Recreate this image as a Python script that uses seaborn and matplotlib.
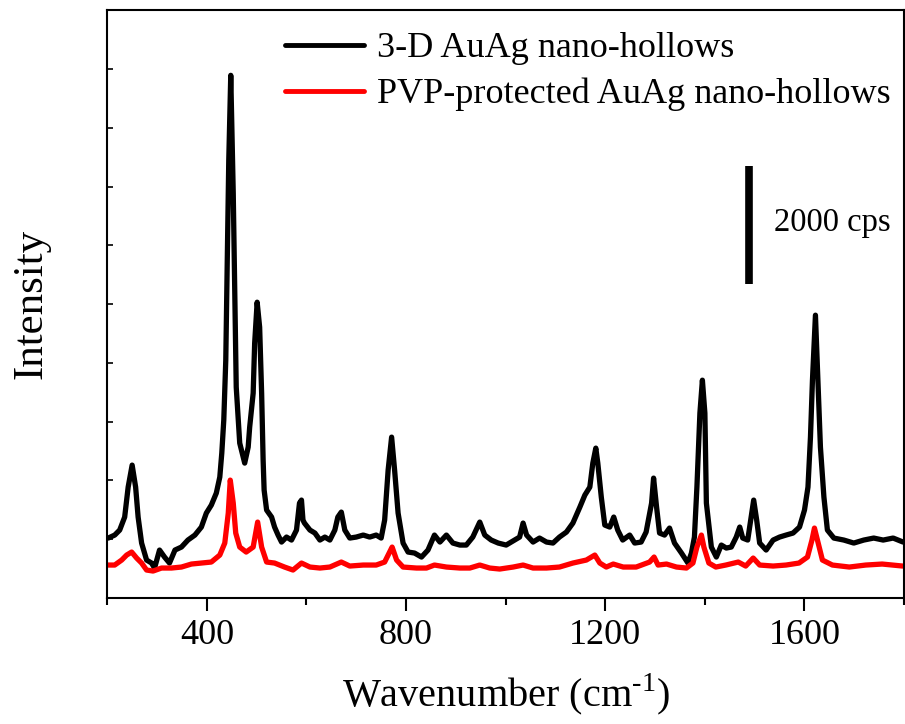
import matplotlib
matplotlib.use("Agg")
import matplotlib.pyplot as plt
import seaborn as sns
import pandas as pd
import numpy as np

# ---- data ----
series_names = ["3-D AuAg nano-hollows", "PVP-protected AuAg nano-hollows"]
series_colors = ["#000000", "#ff0000"]

wn_black = [202, 215, 225, 235, 242, 250, 257, 262, 269, 279, 289, 295, 305, 315, 325, 336,
            349, 362, 376, 389, 399, 409, 419, 426, 430, 434, 438, 441, 444, 448, 453, 456,
            459, 466, 473, 476, 483, 486, 493, 496, 501, 506, 510, 513, 515, 520, 530, 536,
            543, 550, 560, 570, 580, 586, 590, 593, 596, 607, 617, 627, 637, 647, 657, 663,
            670, 677, 687, 700, 714, 727, 740, 750, 757, 764, 771, 777, 784, 794, 804, 817,
            831, 844, 857, 868, 881, 894, 908, 921, 934, 948, 958, 971, 985, 1001, 1018, 1028,
            1035, 1042, 1055, 1068, 1082, 1095, 1108, 1122, 1135, 1149, 1159, 1169, 1175, 1181,
            1185, 1192, 1199, 1209, 1217, 1225, 1235, 1249, 1259, 1272, 1282, 1293, 1297, 1303,
            1309, 1319, 1329, 1339, 1353, 1366, 1373, 1379, 1384, 1390, 1395, 1400, 1403, 1413,
            1423, 1433, 1443, 1453, 1463, 1470, 1476, 1486, 1493, 1498, 1504, 1510, 1523, 1537,
            1550, 1563, 1577, 1590, 1600, 1607, 1612, 1616, 1622, 1627, 1632, 1639, 1646, 1659,
            1679, 1699, 1719, 1739, 1758, 1778, 1798]
int_black = [1020, 1071, 1156, 1377, 1887, 2261, 1887, 1377, 935, 646, 595, 510, 816, 697, 595, 816,
             867, 986, 1071, 1207, 1445, 1581, 1785, 2057, 2465, 3026, 4046, 5746, 7446, 8891, 6885, 5185,
             3587, 2635, 2397, 2295, 2567, 2907, 3485, 4335, 5032, 4607, 3485, 2346, 1836, 1496, 1377, 1207,
             1071, 952, 1037, 986, 1156, 1615, 1666, 1326, 1275, 1156, 1105, 986, 1037, 986, 1156, 1377,
             1462, 1156, 1020, 1037, 1071, 1037, 1071, 1020, 1326, 2176, 2737, 2176, 1445, 935, 782, 765,
             697, 816, 1071, 952, 1071, 935, 901, 901, 1037, 1292, 1071, 986, 935, 901, 986, 1037,
             1275, 1071, 952, 1020, 952, 935, 1037, 1122, 1275, 1547, 1751, 1887, 2295, 2550,
             2295, 1717, 1241, 1207, 1377, 1156, 986, 1071, 935, 952, 1122, 1615, 2040, 1547,
             1105, 1071, 1190, 935, 765, 595, 765, 1037, 1887, 3145, 3706, 3145, 1615, 867,
             697, 901, 850, 867, 1037, 1207, 1020, 986, 1377, 1666, 1326, 935, 816, 986,
             1037, 1071, 1105, 1207, 1496, 1887, 2737, 3706, 4811, 3706, 2567, 1717, 1156, 1020,
             986, 935, 986, 1020, 986, 1020, 952]

wn_red = [202, 215, 229, 239, 249, 259, 269, 279, 292, 309, 329, 349, 369, 389, 409, 426,
          436, 443, 447, 453, 458, 466, 479, 493, 502, 510, 520, 536, 556, 573, 590, 607,
          627, 647, 670, 687, 714, 740, 757, 766, 772, 781, 794, 821, 841, 857, 881, 908,
          928, 948, 968, 988, 1015, 1035, 1055, 1082, 1108, 1135, 1162, 1179, 1189, 1202, 1216,
          1236, 1262, 1289, 1298, 1306, 1323, 1343, 1363, 1376, 1384, 1393, 1398, 1408, 1422,
          1442, 1467, 1482, 1497, 1510, 1537, 1563, 1589, 1606, 1615, 1620, 1626, 1636, 1656,
          1690, 1723, 1756, 1797]
int_red = [561, 561, 646, 731, 782, 680, 595, 476, 459, 510, 510, 527, 578, 595, 612, 731,
           935, 1445, 2006, 1615, 1105, 867, 782, 867, 1292, 867, 612, 595, 527, 476, 595, 527,
           510, 527, 612, 544, 561, 561, 612, 765, 867, 646, 527, 510, 510, 561, 527, 510,
           510, 561, 510, 493, 527, 561, 510, 510, 527, 595, 646, 731, 595, 527, 578,
           527, 527, 612, 697, 561, 578, 527, 510, 595, 867, 1071, 867, 595, 527,
           561, 612, 544, 680, 561, 544, 561, 595, 697, 986, 1190, 986, 646, 561,
           527, 561, 578, 544]

x_major_ticks = [400, 800, 1200, 1600]
x_major_labels = ["400", "800", "1200", "1600"]
x_minor_ticks = [200, 600, 1000, 1400, 1800]
y_ticks = [0, 1000, 2000, 3000, 4000, 5000, 6000, 7000, 8000, 9000, 10000]

scale_bar_x = 1488
scale_bar_bottom = 5350
scale_bar_length = 2000
scale_bar_label = "2000 cps"

# ---- build table ----
df = pd.concat([
    pd.DataFrame({"wn": wn_black, "I": int_black, "sample": series_names[0]}),
    pd.DataFrame({"wn": wn_red, "I": int_red, "sample": series_names[1]}),
], ignore_index=True)

sns.set_style("ticks")
plt.rcParams["font.family"] = ["Liberation Serif", "DejaVu Serif"]
plt.rcParams["mathtext.fontset"] = "custom"
plt.rcParams["mathtext.rm"] = "Liberation Serif"
for k in ["text.color", "axes.labelcolor", "xtick.color", "ytick.color", "axes.edgecolor"]:
    plt.rcParams[k] = "black"

fig = plt.figure(figsize=(9.05, 7.24), dpi=100)
ax = fig.add_axes([0.1185, 0.174, 0.8805, 0.812])

sns.lineplot(data=df, x="wn", y="I", hue="sample", palette=series_colors,
             hue_order=series_names, sort=False, estimator=None, linewidth=3.8, ax=ax)

ax.set_xlim(200, 1800)
ax.set_ylim(0, 10000)
ax.set_xticks(x_major_ticks)
ax.set_xticklabels(x_major_labels)
ax.set_xticks(x_minor_ticks, minor=True)
ax.set_yticks(y_ticks)
ax.set_yticklabels([])
ax.tick_params(axis="x", which="major", direction="out", length=9, width=1.5,
               labelsize=26, pad=6)
ax.tick_params(axis="x", which="minor", direction="out", length=5, width=1.5)
ax.tick_params(axis="y", direction="in", length=4, width=1.2)
for s in ax.spines.values():
    s.set_linewidth(1.5)
    s.set_visible(True)

ax.set_xlabel("Wavenumber (cm$^{\\mathregular{\u2010}1}$)", fontsize=29, labelpad=14)
ax.set_ylabel("Intensity", fontsize=31, labelpad=37)

# scale bar
ax.plot([scale_bar_x, scale_bar_x], [scale_bar_bottom, scale_bar_bottom + scale_bar_length],
        color="black", linewidth=5.5, solid_capstyle="butt")
ax.text(scale_bar_x + 50, scale_bar_bottom + scale_bar_length / 2 + 40, scale_bar_label,
        fontsize=23.5, va="center", ha="left")

leg = ax.legend(loc="upper left", bbox_to_anchor=(0.223, 0.963), frameon=False,
                fontsize=26, handlelength=2.2, handletextpad=0.36, labelspacing=0.35,
                borderpad=0, borderaxespad=0)
for line in leg.get_lines():
    line.set_linewidth(3.5)

fig.savefig("out.png", dpi=100)
